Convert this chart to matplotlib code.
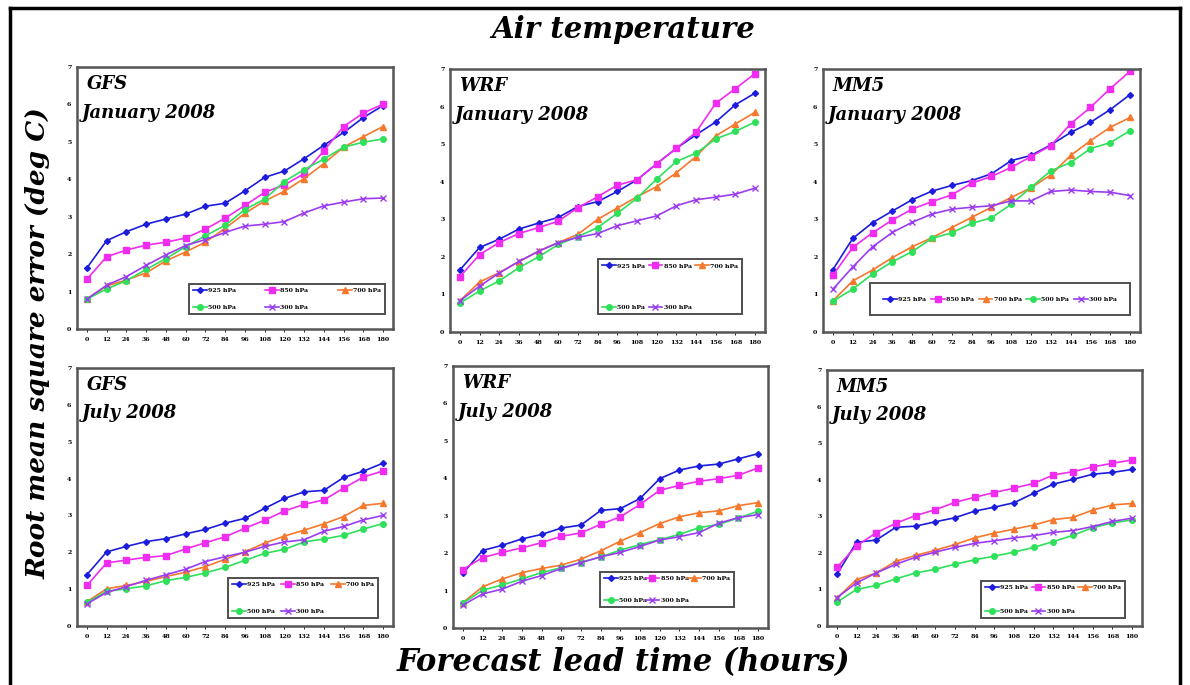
import matplotlib
matplotlib.use("Agg")
import matplotlib.pyplot as plt
from matplotlib.lines import Line2D

hours = [0, 12, 24, 36, 48, 60, 72, 84, 96, 108, 120, 132, 144, 156, 168, 180]
levels = ["925 hPa", "850 hPa", "700 hPa", "500 hPa", "300 hPa"]

# rows: 925, 850, 700, 500, 300 hPa
gfs_jan = [
    [1.63, 2.36, 2.60, 2.80, 2.94, 3.07, 3.28, 3.36, 3.69, 4.05, 4.22, 4.55, 4.91, 5.25, 5.65, 5.97],
    [1.33, 1.93, 2.11, 2.24, 2.32, 2.43, 2.67, 2.96, 3.30, 3.65, 3.85, 4.15, 4.76, 5.41, 5.77, 6.01],
    [0.80, 1.15, 1.31, 1.50, 1.82, 2.06, 2.32, 2.69, 3.09, 3.42, 3.68, 4.02, 4.42, 4.86, 5.14, 5.41],
    [0.80, 1.07, 1.29, 1.59, 1.88, 2.20, 2.49, 2.77, 3.19, 3.47, 3.94, 4.26, 4.54, 4.86, 4.99, 5.08],
    [0.80, 1.17, 1.40, 1.70, 1.98, 2.23, 2.39, 2.58, 2.75, 2.80, 2.87, 3.10, 3.29, 3.39, 3.48, 3.50],
]
wrf_jan = [
    [1.65, 2.25, 2.47, 2.74, 2.90, 3.05, 3.34, 3.47, 3.74, 4.05, 4.48, 4.89, 5.25, 5.59, 6.05, 6.36],
    [1.47, 2.06, 2.38, 2.62, 2.78, 2.95, 3.31, 3.60, 3.91, 4.05, 4.48, 4.89, 5.32, 6.09, 6.48, 6.88],
    [0.83, 1.33, 1.58, 1.87, 2.15, 2.38, 2.60, 3.00, 3.30, 3.60, 3.87, 4.24, 4.67, 5.22, 5.54, 5.85],
    [0.77, 1.09, 1.36, 1.71, 2.00, 2.33, 2.54, 2.78, 3.16, 3.56, 4.07, 4.54, 4.76, 5.14, 5.34, 5.59],
    [0.83, 1.22, 1.57, 1.88, 2.15, 2.38, 2.52, 2.62, 2.83, 2.96, 3.09, 3.36, 3.52, 3.59, 3.67, 3.83],
]
mm5_jan = [
    [1.66, 2.49, 2.91, 3.22, 3.52, 3.75, 3.90, 4.03, 4.21, 4.56, 4.70, 4.98, 5.31, 5.58, 5.92, 6.32],
    [1.51, 2.25, 2.64, 2.98, 3.27, 3.47, 3.65, 3.96, 4.14, 4.38, 4.67, 4.96, 5.54, 5.98, 6.48, 6.94],
    [0.83, 1.36, 1.65, 1.98, 2.27, 2.51, 2.78, 3.05, 3.32, 3.58, 3.84, 4.18, 4.70, 5.09, 5.45, 5.71],
    [0.82, 1.14, 1.54, 1.87, 2.14, 2.49, 2.64, 2.89, 3.04, 3.40, 3.85, 4.29, 4.51, 4.88, 5.04, 5.36],
    [1.14, 1.73, 2.27, 2.65, 2.92, 3.14, 3.27, 3.32, 3.36, 3.49, 3.49, 3.74, 3.78, 3.74, 3.72, 3.63],
]
gfs_jul = [
    [1.39, 2.01, 2.16, 2.29, 2.37, 2.50, 2.62, 2.79, 2.92, 3.19, 3.46, 3.64, 3.68, 4.03, 4.20, 4.42],
    [1.10, 1.71, 1.79, 1.86, 1.91, 2.09, 2.26, 2.42, 2.65, 2.87, 3.12, 3.30, 3.42, 3.74, 4.04, 4.21],
    [0.66, 1.01, 1.10, 1.21, 1.34, 1.46, 1.61, 1.81, 2.01, 2.25, 2.44, 2.60, 2.77, 2.97, 3.27, 3.33],
    [0.64, 0.94, 1.01, 1.09, 1.23, 1.32, 1.44, 1.59, 1.78, 1.97, 2.08, 2.28, 2.36, 2.46, 2.63, 2.78],
    [0.60, 0.91, 1.07, 1.24, 1.39, 1.54, 1.75, 1.88, 2.00, 2.16, 2.28, 2.34, 2.57, 2.70, 2.88, 3.00],
]
wrf_jul = [
    [1.46, 2.07, 2.21, 2.38, 2.50, 2.67, 2.75, 3.14, 3.19, 3.46, 3.99, 4.22, 4.33, 4.38, 4.52, 4.66],
    [1.56, 1.88, 2.02, 2.14, 2.28, 2.45, 2.54, 2.77, 2.97, 3.30, 3.68, 3.81, 3.92, 3.99, 4.08, 4.28],
    [0.68, 1.10, 1.31, 1.48, 1.59, 1.68, 1.84, 2.06, 2.32, 2.55, 2.79, 2.97, 3.08, 3.13, 3.27, 3.35],
    [0.66, 1.01, 1.15, 1.31, 1.48, 1.61, 1.75, 1.90, 2.08, 2.23, 2.36, 2.50, 2.68, 2.77, 2.94, 3.12],
    [0.61, 0.91, 1.04, 1.25, 1.40, 1.59, 1.75, 1.90, 2.02, 2.18, 2.35, 2.44, 2.55, 2.80, 2.95, 3.03],
]
mm5_jul = [
    [1.41, 2.29, 2.35, 2.70, 2.73, 2.85, 2.96, 3.14, 3.25, 3.37, 3.63, 3.88, 4.01, 4.15, 4.20, 4.28],
    [1.60, 2.19, 2.55, 2.81, 3.02, 3.18, 3.38, 3.52, 3.65, 3.77, 3.90, 4.13, 4.22, 4.35, 4.45, 4.54],
    [0.76, 1.27, 1.45, 1.77, 1.93, 2.07, 2.23, 2.41, 2.54, 2.65, 2.76, 2.91, 2.97, 3.17, 3.31, 3.35],
    [0.65, 1.00, 1.11, 1.29, 1.45, 1.55, 1.69, 1.81, 1.91, 2.02, 2.15, 2.31, 2.48, 2.69, 2.82, 2.90],
    [0.77, 1.18, 1.45, 1.69, 1.88, 2.02, 2.15, 2.26, 2.33, 2.41, 2.47, 2.56, 2.61, 2.72, 2.86, 2.95],
]

colors = ["#1c1cdc", "#f02cf0", "#f5782d", "#2ee05a", "#9b3cf0"]
markers = ["D", "s", "^", "o", "x"]
msizes = [3, 4, 4, 4, 4]

serif = "DejaVu Serif"

fig = plt.figure(figsize=(11.9, 6.85), dpi=100)

# panel boxes in pixels: left, top, right, bottom
boxes = [(77, 67, 393, 329), (450, 69, 765, 332), (823, 69, 1140, 332),
         (77, 368, 393, 626), (453, 366, 768, 628), (827, 370, 1142, 626)]
panels = [gfs_jan, wrf_jan, mm5_jan, gfs_jul, wrf_jul, mm5_jul]
models = ["GFS", "WRF", "MM5", "GFS", "WRF", "MM5"]
months = ["January 2008"] * 3 + ["July 2008"] * 3
# legend boxes in axes fraction: x0, y0, x1, ncol, row spacing, border pad
legs = [(0.345, 0.046, 0.984, 3, 1.8, 0.6), (0.460, 0.057, 0.937, 3, 5.8, 0.6),
        (0.139, 0.053, 0.978, 5, 0.3, 2.1), (0.468, 0.019, 0.962, 3, 3.5, 0.6),
        (0.457, 0.069, 0.902, 3, 2.7, 0.6), (0.479, 0.020, 0.956, 3, 3.0, 0.6)]

W, H = 1190, 685
for i in range(6):
    l, t, r, b = boxes[i]
    ax = fig.add_axes([l / W, 1 - b / H, (r - l) / W, (b - t) / H])
    data = panels[i]
    lines = []
    for k in range(5):
        ln, = ax.plot(hours, data[k], color=colors[k], marker=markers[k], markersize=msizes[k],
                      linewidth=1.2, label=levels[k], markeredgewidth=1)
        lines.append(ln)
    ax.set_xlim(-6, 186)
    ax.set_ylim(0, 7)
    ax.set_xticks(hours)
    ax.set_yticks(range(8))
    ax.tick_params(axis="both", labelsize=4.5, length=2, width=0.6, pad=4)
    ax.tick_params(axis="y", length=0)
    for lab in ax.get_xticklabels() + ax.get_yticklabels():
        lab.set_fontfamily(serif)
        lab.set_fontweight("bold")
    for s in ax.spines.values():
        s.set_color("#555555")
        s.set_linewidth(1.8)
    ax.text(0.03, 0.97, models[i], transform=ax.transAxes, ha="left", va="top",
            fontsize=13, fontfamily=serif, fontweight="bold", fontstyle="italic")
    ax.text(0.015, 0.86, months[i], transform=ax.transAxes, ha="left", va="top",
            fontsize=13, fontfamily=serif, fontweight="bold", fontstyle="italic")
    x0, y0, x1, nc, sp, bp = legs[i]
    if nc == 3:
        # row-wise fill: 925 850 700 / 500 300
        order = [0, 3, 1, 4, 2]
    else:
        order = [0, 1, 2, 3, 4]
    leg = ax.legend([lines[k] for k in order], [levels[k] for k in order],
                    loc="lower left", bbox_to_anchor=(x0, y0, x1 - x0, 0.1), mode="expand",
                    ncol=nc, frameon=True, fancybox=False, handlelength=2.2,
                    handletextpad=0.2, columnspacing=0.8, labelspacing=sp, borderpad=bp,
                    prop={"family": serif, "weight": "bold", "size": 4.5})
    leg.get_frame().set_edgecolor("#222222")
    leg.get_frame().set_linewidth(1.4)

fig.text(623 / W, 1 - 30 / H, "Air temperature", ha="center", va="center",
         fontsize=21, fontfamily=serif, fontweight="bold", fontstyle="italic")
fig.text(623 / W, 1 - 663 / H, "Forecast lead time (hours)", ha="center", va="center",
         fontsize=22, fontfamily=serif, fontweight="bold", fontstyle="italic")
fig.text(38 / W, 1 - 343 / H, "Root mean square error (deg C)", ha="center", va="center",
         rotation=90, fontsize=19, fontfamily=serif, fontweight="bold", fontstyle="italic")

# outer frame (left, top, right)
lx, rx, ty = 10 / W, 1180 / W, 1 - 8 / H
fig.add_artist(Line2D([lx, lx], [0, ty], color="black", linewidth=2.5))
fig.add_artist(Line2D([lx, rx], [ty, ty], color="black", linewidth=2.5))
fig.add_artist(Line2D([rx, rx], [0, ty], color="black", linewidth=2.5))

fig.savefig("out.png", dpi=100)
